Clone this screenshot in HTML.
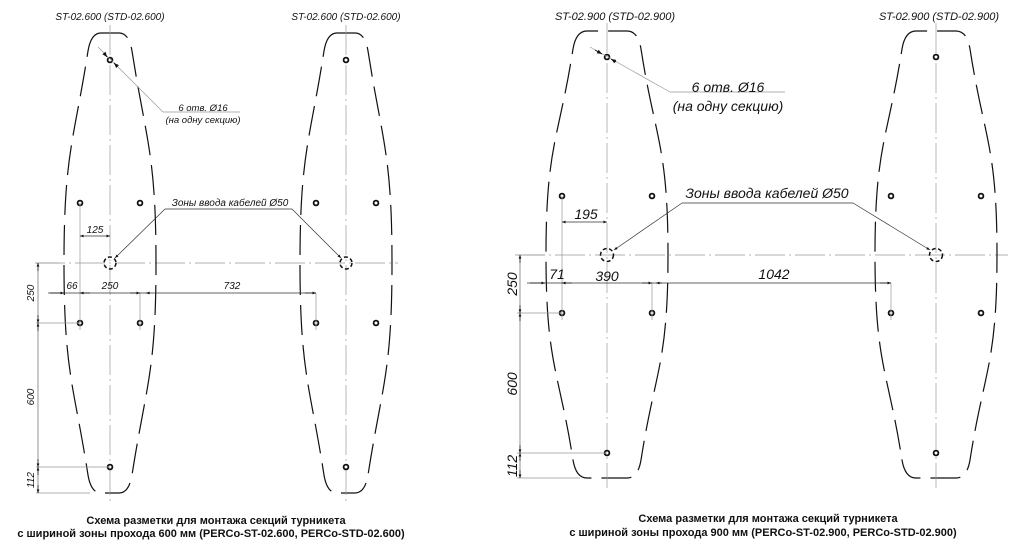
<!DOCTYPE html>
<html><head><meta charset="utf-8"><style>
body{margin:0;background:#fff}
svg{display:block}
text{font-family:"Liberation Sans",sans-serif;fill:#111}
.i{font-style:italic}
.b{font-weight:bold;font-size:11px}
</style></head><body>
<svg id="s" width="1030" height="546" viewBox="0 0 1030 546" xmlns="http://www.w3.org/2000/svg">
<defs>
<marker id="a" viewBox="0 0 10 10" refX="10" refY="5" markerWidth="7" markerHeight="5" orient="auto-start-reverse"><path d="M0,1 L10,5 L0,9 z" fill="#111"/></marker>
</defs>
<g id="g"></g>
<text class="i" x="110" y="20" font-size="10" text-anchor="middle">ST-02.600 (STD-02.600)</text>
<text class="i" x="346" y="20" font-size="10" text-anchor="middle">ST-02.600 (STD-02.600)</text>
<text class="i" x="203" y="111" font-size="9.5" text-anchor="middle">6 отв. Ø16</text>
<text class="i" x="203" y="123" font-size="9.5" text-anchor="middle">(на одну секцию)</text>
<text class="i" x="230" y="206" font-size="10" text-anchor="middle">Зоны ввода кабелей Ø50</text>
<text class="i" x="95" y="233" font-size="10" text-anchor="middle">125</text>
<text class="i" x="72" y="289" font-size="10" text-anchor="middle">66</text>
<text class="i" x="110" y="289" font-size="10" text-anchor="middle">250</text>
<text class="i" x="232" y="289" font-size="10" text-anchor="middle">732</text>
<text class="i" font-size="10" text-anchor="middle" transform="translate(34,293) rotate(-90)">250</text>
<text class="i" font-size="10" text-anchor="middle" transform="translate(34,397) rotate(-90)">600</text>
<text class="i" font-size="10" text-anchor="middle" transform="translate(34,480) rotate(-90)">112</text>
<text class="b" x="216" y="524" text-anchor="middle">Схема разметки для монтажа секций турникета</text>
<text class="b" x="211" y="537" text-anchor="middle">с шириной зоны прохода 600 мм (PERCo-ST-02.600, PERCo-STD-02.600)</text>
<text class="i" x="615" y="20" font-size="11" text-anchor="middle">ST-02.900 (STD-02.900)</text>
<text class="i" x="939" y="20" font-size="11" text-anchor="middle">ST-02.900 (STD-02.900)</text>
<text class="i" x="728" y="92" font-size="14" text-anchor="middle">6 отв. Ø16</text>
<text class="i" x="728" y="111" font-size="14" text-anchor="middle">(на одну секцию)</text>
<text class="i" x="767" y="198" font-size="14" text-anchor="middle">Зоны ввода кабелей Ø50</text>
<text class="i" x="586" y="219" font-size="14" text-anchor="middle">195</text>
<text class="i" x="557" y="279" font-size="14" text-anchor="middle">71</text>
<text class="i" x="607" y="281" font-size="14" text-anchor="middle">390</text>
<text class="i" x="774" y="279" font-size="14" text-anchor="middle">1042</text>
<text class="i" font-size="14" text-anchor="middle" transform="translate(517,284) rotate(-90)">250</text>
<text class="i" font-size="14" text-anchor="middle" transform="translate(517,384) rotate(-90)">600</text>
<text class="i" font-size="14" text-anchor="middle" transform="translate(517,466) rotate(-90)">112</text>
<text class="b" x="768" y="522" text-anchor="middle">Схема разметки для монтажа секций турникета</text>
<text class="b" x="763" y="536" text-anchor="middle">с шириной зоны прохода 900 мм (PERCo-ST-02.900, PERCo-STD-02.900)</text>
</svg>
<script>
var g=document.getElementById('g'),o='';
function L(x1,y1,x2,y2,st){o+='<line x1="'+x1+'" y1="'+y1+'" x2="'+x2+'" y2="'+y2+'" stroke="'+(st&&st.c||'#999')+'" stroke-width="'+(st&&st.w||0.7)+'"'+(st&&st.d?' stroke-dasharray="'+st.d+'"':'')+(st&&st.m?' marker-end="url(#a)"':'')+(st&&st.ms?' marker-start="url(#a)"':'')+'/>';}
function shape(cx,top,mid,bot,W,f,cw,ch){
 var a=cx-cw, b=cx+cw;
 var p='M'+(cx-f)+','+top+' Q'+(a+3)+','+top+' '+a+','+(top+ch)+' C'+(a-14)+','+(top+ch+90)+' '+(cx-W)+','+(mid-110)+' '+(cx-W)+','+mid+' C'+(cx-W)+','+(mid+110)+' '+(a-14)+','+(bot-ch-90)+' '+a+','+(bot-ch)+' Q'+(a+3)+','+bot+' '+(cx-f)+','+bot+' L'+(cx+f)+','+bot+' Q'+(b-3)+','+bot+' '+b+','+(bot-ch)+' C'+(b+14)+','+(bot-ch-90)+' '+(cx+W)+','+(mid+110)+' '+(cx+W)+','+mid+' C'+(cx+W)+','+(mid-110)+' '+(b+14)+','+(top+ch+90)+' '+b+','+(top+ch)+' Q'+(b-3)+','+top+' '+(cx+f)+','+top+' Z';
 o+='<path d="'+p+'" fill="none" stroke="#111" stroke-width="1.2" stroke-dasharray="30,10"/>';
 L(cx,top-8,cx,bot+10,{d:'30,4,2,4'});
}
function hole(x,y){o+='<circle cx="'+x+'" cy="'+y+'" r="2.4" fill="#fff" stroke="#111" stroke-width="1.8"/>';}
function big(x,y,r){o+='<circle cx="'+x+'" cy="'+y+'" r="'+r+'" fill="none" stroke="#111" stroke-width="1.5" stroke-dasharray="4,2.5"/>';}
L(35,263,398,263,{d:'30,4,2,4'});
shape(110,33,263,493,46,9,22,18);
shape(346,33,263,493,46,9,22,18);
[[110,60],[80,203],[140,203],[80,323],[140,323],[110,467],[346,60],[316,203],[376,203],[316,323],[376,323],[346,467]].forEach(function(h){hole(h[0],h[1]);});
big(110,263,6);big(346,263,6);
L(98,47,163,112);L(163,112,240,112);
L(104,53,107,57,{c:'#111',w:1,m:1});L(117,66,114,63,{c:'#111',w:1,m:1});
L(165,209,292,209,{c:'#333'});L(165,209,115,258,{c:'#333',m:1});L(292,209,341,258,{c:'#333',m:1});
L(80,203,80,330);L(140,293,140,330);L(316,293,316,330);
L(80,236,110,236,{c:'#333',m:1,ms:1});
L(48,293,316,293,{c:'#333'});L(50,293,64,293,{c:'#111',m:1});L(80,293,90,293,{c:'#111',ms:1});
L(130,293,140,293,{c:'#111',m:1});L(150,293,146,293,{c:'#111',m:1});L(305,293,316,293,{c:'#111',m:1});
L(36,263,60,263);L(36,323,80,323);L(36,467,110,467);L(36,493,90,493);
L(38,263,38,493,{c:'#666'});
[[263,323],[323,467],[467,493]].forEach(function(s){L(38,s[0]+8,38,s[0],{c:'#111',m:1});L(38,s[1]-8,38,s[1],{c:'#111',m:1});});
L(515,255,1008,255,{d:'30,4,2,4'});
shape(607,31,255,478,61,20,34,18);
shape(936,31,255,478,61,20,34,18);
[[607,57],[562,196],[652,196],[562,313],[652,313],[607,453],[936,57],[891,196],[981,196],[891,313],[981,313],[936,453]].forEach(function(h){hole(h[0],h[1]);});
big(607,255,6.5);big(936,255,6.5);
L(590,47,670,92);L(670,92,785,92);
L(595,50,602,54,{c:'#111',w:1,m:1});L(616,62,611,59,{c:'#111',w:1,m:1});
L(682,203,853,203,{c:'#333'});L(682,203,614,250,{c:'#333',m:1});L(853,203,930,250,{c:'#333',m:1});
L(562,196,562,320);L(652,283,652,320);L(891,283,891,320);
L(562,222,607,222,{c:'#333',m:1,ms:1});
L(527,283,891,283,{c:'#333'});L(530,283,545,283,{c:'#111',m:1});L(562,283,572,283,{c:'#111',ms:1});
L(642,283,652,283,{c:'#111',m:1});L(662,283,656,283,{c:'#111',m:1});L(880,283,891,283,{c:'#111',m:1});
L(517,255,545,255);L(517,313,562,313);L(517,453,607,453);L(517,478,580,478);
L(520,255,520,478,{c:'#666'});
[[255,313],[313,453],[453,478]].forEach(function(s){L(520,s[0]+8,520,s[0],{c:'#111',m:1});L(520,s[1]-8,520,s[1],{c:'#111',m:1});});
g.innerHTML=o;
</script>
</body></html>
